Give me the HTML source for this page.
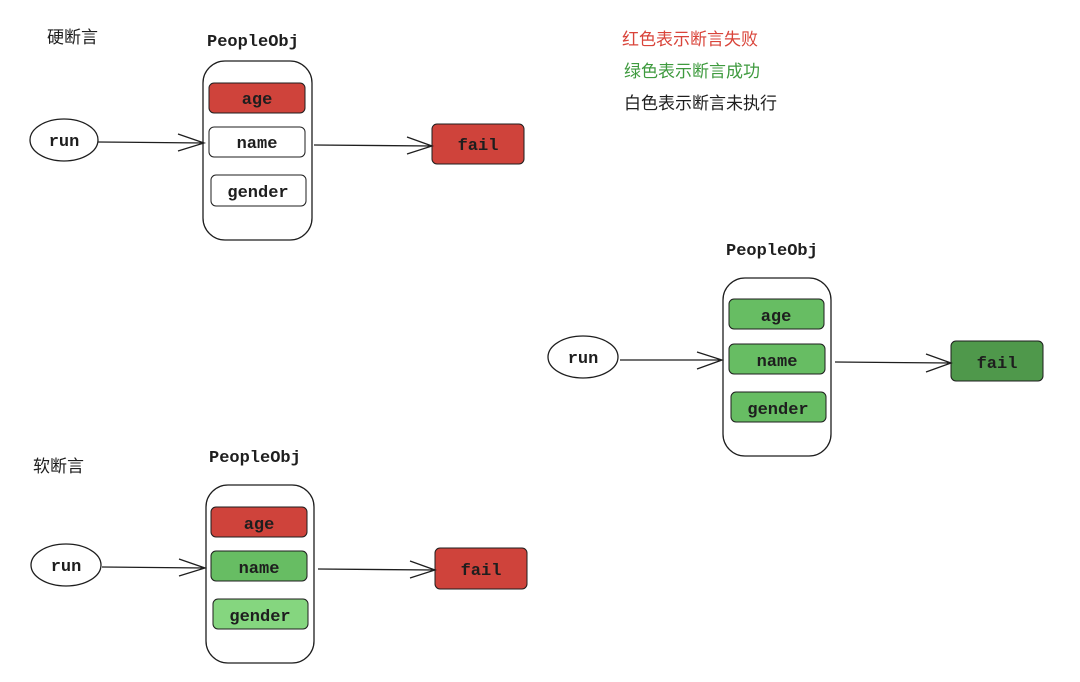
<!DOCTYPE html>
<html><head><meta charset="utf-8"><style>
html,body{margin:0;padding:0;background:#fff;}
svg{display:block}
.m{font-family:"Liberation Mono","DejaVu Sans Mono",monospace;font-size:17px;fill:#1e1e1e;font-weight:bold;text-anchor:middle}
.t{font-family:"Liberation Mono","DejaVu Sans Mono",monospace;font-size:17px;fill:#1e1e1e;font-weight:bold}
.c{font-family:"Liberation Sans","Noto Sans CJK SC",sans-serif;font-size:17px}
.b{stroke:#1e1e1e;stroke-width:1.3;fill:none}
</style></head><body>
<svg width="1080" height="682" viewBox="0 0 1080 682">
<!-- legend -->
<text class="c" x="622" y="45" fill="#d9443a">红色表示断言失败</text>
<text class="c" x="624" y="77" fill="#3e9a3e">绿色表示断言成功</text>
<text class="c" x="624" y="109" fill="#1e1e1e">白色表示断言未执行</text>

<!-- top -->
<text class="c" x="47" y="43" fill="#1e1e1e">硬断言</text>
<text class="t" x="207" y="46">PeopleObj</text>
<rect x="203" y="61" width="109" height="179" rx="22" class="b"/>
<rect x="209" y="83" width="96" height="30" rx="5" fill="#cf433b" stroke="#1e1e1e"/>
<text class="m" x="257" y="104">age</text>
<rect x="209" y="127" width="96" height="30" rx="5" fill="#fff" stroke="#1e1e1e"/>
<text class="m" x="257" y="148">name</text>
<rect x="211" y="175" width="95" height="31" rx="5" fill="#fff" stroke="#1e1e1e"/>
<text class="m" x="258" y="197">gender</text>
<ellipse cx="64" cy="140" rx="34" ry="21" class="b"/>
<text class="m" x="64" y="146">run</text>
<path d="M98 142 L204 143 M178 134 L204 143 L178 151" class="b"/>
<rect x="432" y="124" width="92" height="40" rx="5" fill="#cf433b" stroke="#1e1e1e"/>
<text class="m" x="478" y="150">fail</text>
<path d="M314 145 L432 146 M407 137 L432 146 L407 154" class="b"/>

<!-- right -->
<text class="t" x="726" y="255">PeopleObj</text>
<rect x="723" y="278" width="108" height="178" rx="22" class="b"/>
<rect x="729" y="299" width="95" height="30" rx="5" fill="#67bd63" stroke="#1e1e1e"/>
<text class="m" x="776" y="321">age</text>
<rect x="729" y="344" width="96" height="30" rx="5" fill="#67bd63" stroke="#1e1e1e"/>
<text class="m" x="777" y="366">name</text>
<rect x="731" y="392" width="95" height="30" rx="5" fill="#67bd63" stroke="#1e1e1e"/>
<text class="m" x="778" y="414">gender</text>
<ellipse cx="583" cy="357" rx="35" ry="21" class="b"/>
<text class="m" x="583" y="363">run</text>
<path d="M620 360 L722 360 M697 352 L722 360 L697 369" class="b"/>
<rect x="951" y="341" width="92" height="40" rx="5" fill="#4f984b" stroke="#1e1e1e"/>
<text class="m" x="997" y="368">fail</text>
<path d="M835 362 L951 363 M926 354 L951 363 L926 372" class="b"/>

<!-- bottom -->
<text class="c" x="33" y="472" fill="#1e1e1e">软断言</text>
<text class="t" x="209" y="462">PeopleObj</text>
<rect x="206" y="485" width="108" height="178" rx="22" class="b"/>
<rect x="211" y="507" width="96" height="30" rx="5" fill="#cf433b" stroke="#1e1e1e"/>
<text class="m" x="259" y="529">age</text>
<rect x="211" y="551" width="96" height="30" rx="5" fill="#67bd63" stroke="#1e1e1e"/>
<text class="m" x="259" y="573">name</text>
<rect x="213" y="599" width="95" height="30" rx="5" fill="#85d67f" stroke="#1e1e1e"/>
<text class="m" x="260" y="621">gender</text>
<ellipse cx="66" cy="565" rx="35" ry="21" class="b"/>
<text class="m" x="66" y="571">run</text>
<path d="M102 567 L205 568 M179 559 L205 568 L179 576" class="b"/>
<rect x="435" y="548" width="92" height="41" rx="5" fill="#cf433b" stroke="#1e1e1e"/>
<text class="m" x="481" y="575">fail</text>
<path d="M318 569 L435 570 M410 561 L435 570 L410 578" class="b"/>
</svg>
</body></html>
